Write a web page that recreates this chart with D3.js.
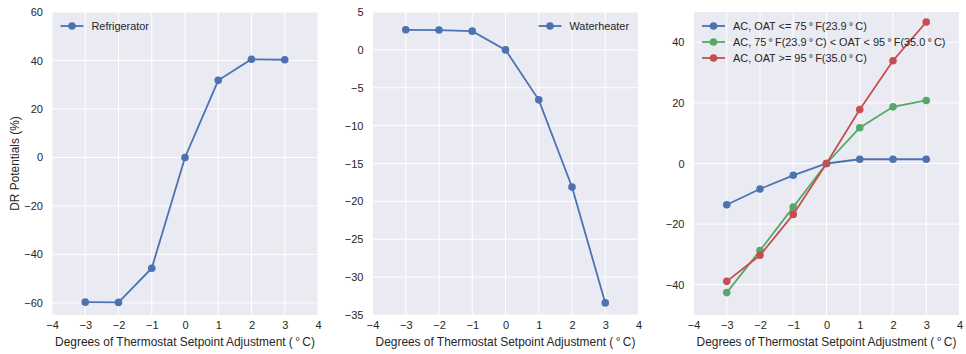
<!DOCTYPE html>
<html>
<head>
<meta charset="utf-8">
<script src="https://cdn.jsdelivr.net/npm/d3@7"></script>
<style>
  html, body { margin: 0; padding: 0; background: #fff; }
  svg { display: block; font-family: "Liberation Sans", Arial, sans-serif; }
</style>
</head>
<body>
<svg id="chart" width="966" height="354"></svg>
<script>
// Setpoint adjustments (°C)
const adjustments = [-3, -2, -1, 0, 1, 2, 3];
const xTicks = [-4, -3, -2, -1, 0, 1, 2, 3, 4];

// DR potentials (%) per appliance
const refrigerator = [-59.7, -59.8, -45.7, 0, 31.8, 40.5, 40.3];
const waterheater = [2.65, 2.62, 2.47, 0, -6.6, -18.1, -33.4];
const acLow = [-13.6, -8.4, -3.9, 0, 1.4, 1.4, 1.4];
const acMid = [-42.6, -28.7, -14.4, 0, 11.8, 18.7, 20.8];
const acHigh = [-38.9, -30.3, -16.8, 0, 17.8, 33.9, 46.7];

const refTicks = [-60, -40, -20, 0, 20, 40, 60];
const whTicks = [-35, -30, -25, -20, -15, -10, -5, 0, 5];
const acTicks = [-40, -20, 0, 20, 40];

const labelsAc = [
  "AC, OAT <= 75\u2009°\u2009F(23.9\u2009°\u2009C)",
  "AC, 75\u2009°\u2009F(23.9\u2009°\u2009C) < OAT < 95\u2009°\u2009F(35.0\u2009°\u2009C)",
  "AC, OAT >= 95\u2009°\u2009F(35.0\u2009°\u2009C)"
];

const BLUE = "#4C72B0", GREEN = "#55A868", RED = "#C44E52";
const TEXT = "#262626";
const xLabel = "Degrees of Thermostat Setpoint Adjustment (\u2009°\u2009C)";

const svg = d3.select("#chart");
const fmt = v => (v < 0 ? "\u2212" + Math.abs(v) : String(v));

const panels = [
  { left: 52, right: 318, yDomain: [-65, 60], yTicks: refTicks,
    series: [{ name: "Refrigerator", values: refrigerator, color: BLUE }],
    legend: "left", yTitle: "DR Potentials (%)" },
  { left: 372.5, right: 638.5, yDomain: [-35, 5], yTicks: whTicks,
    series: [{ name: "Waterheater", values: waterheater, color: BLUE }],
    legend: "right" },
  { left: 693.5, right: 959.5, yDomain: [-50, 50], yTicks: acTicks,
    series: [
      { name: labelsAc[0], values: acLow, color: BLUE },
      { name: labelsAc[1], values: acMid, color: GREEN },
      { name: labelsAc[2], values: acHigh, color: RED }
    ],
    legend: "left" }
];

const plotTop = 12, plotBottom = 315;

panels.forEach(p => {
  const x = d3.scaleLinear().domain([-4, 4]).range([p.left, p.right]);
  const y = d3.scaleLinear().domain(p.yDomain).range([plotBottom, plotTop]);
  const g = svg.append("g");

  g.append("rect")
    .attr("x", p.left).attr("y", plotTop)
    .attr("width", p.right - p.left).attr("height", plotBottom - plotTop)
    .attr("fill", "#EAEAF2");

  // grid
  g.selectAll(".gx").data(xTicks).join("line")
    .attr("x1", d => x(d)).attr("x2", d => x(d))
    .attr("y1", plotTop).attr("y2", plotBottom)
    .attr("stroke", "#fff").attr("stroke-width", 1);
  g.selectAll(".gy").data(p.yTicks).join("line")
    .attr("x1", p.left).attr("x2", p.right)
    .attr("y1", d => y(d)).attr("y2", d => y(d))
    .attr("stroke", "#fff").attr("stroke-width", 1);

  // axes (labels only)
  const xAxis = d3.axisBottom(x).tickValues(xTicks).tickSize(0).tickPadding(6).tickFormat(fmt);
  const ax = g.append("g").attr("transform", `translate(0,${plotBottom})`).call(xAxis);
  const yAxis = d3.axisLeft(y).tickValues(p.yTicks).tickSize(0).tickPadding(9).tickFormat(fmt);
  const ay = g.append("g").attr("transform", `translate(${p.left},0)`).call(yAxis);
  [ax, ay].forEach(a => {
    a.select(".domain").remove();
    a.selectAll("text").attr("fill", TEXT).attr("font-size", 11)
      .attr("font-family", "Liberation Sans, Arial, sans-serif");
  });

  g.append("text")
    .attr("x", (p.left + p.right) / 2).attr("y", 345.5)
    .attr("text-anchor", "middle").attr("font-size", 11.9).attr("fill", TEXT)
    .text(xLabel);

  if (p.yTitle) {
    g.append("text")
      .attr("transform", `translate(19,${(plotTop + plotBottom) / 2}) rotate(-90)`)
      .attr("text-anchor", "middle").attr("font-size", 11.9).attr("fill", TEXT)
      .text(p.yTitle);
  }

  const line = d3.line().x((d, i) => x(adjustments[i])).y(d => y(d));
  p.series.forEach(s => {
    g.append("path").datum(s.values)
      .attr("d", line).attr("fill", "none")
      .attr("stroke", s.color).attr("stroke-width", 1.8);
    g.selectAll(null).data(s.values).join("circle")
      .attr("cx", (d, i) => x(adjustments[i])).attr("cy", d => y(d))
      .attr("r", 3.8).attr("fill", s.color);
  });

  // legend
  p.series.forEach((s, i) => {
    const ly = 26 + i * 16;
    const lx0 = p.legend === "left" ? p.left + 8.5 : p.right - 100;
    const lg = g.append("g");
    lg.append("line").attr("x1", lx0).attr("x2", lx0 + 23)
      .attr("y1", ly).attr("y2", ly)
      .attr("stroke", s.color).attr("stroke-width", 1.8);
    lg.append("circle").attr("cx", lx0 + 11.5).attr("cy", ly).attr("r", 3.8).attr("fill", s.color);
    lg.append("text").attr("x", lx0 + 31).attr("y", ly).attr("dy", "0.35em")
      .attr("font-size", 10.9).attr("fill", TEXT).text(s.name);
  });
});
</script>
</body>
</html>
